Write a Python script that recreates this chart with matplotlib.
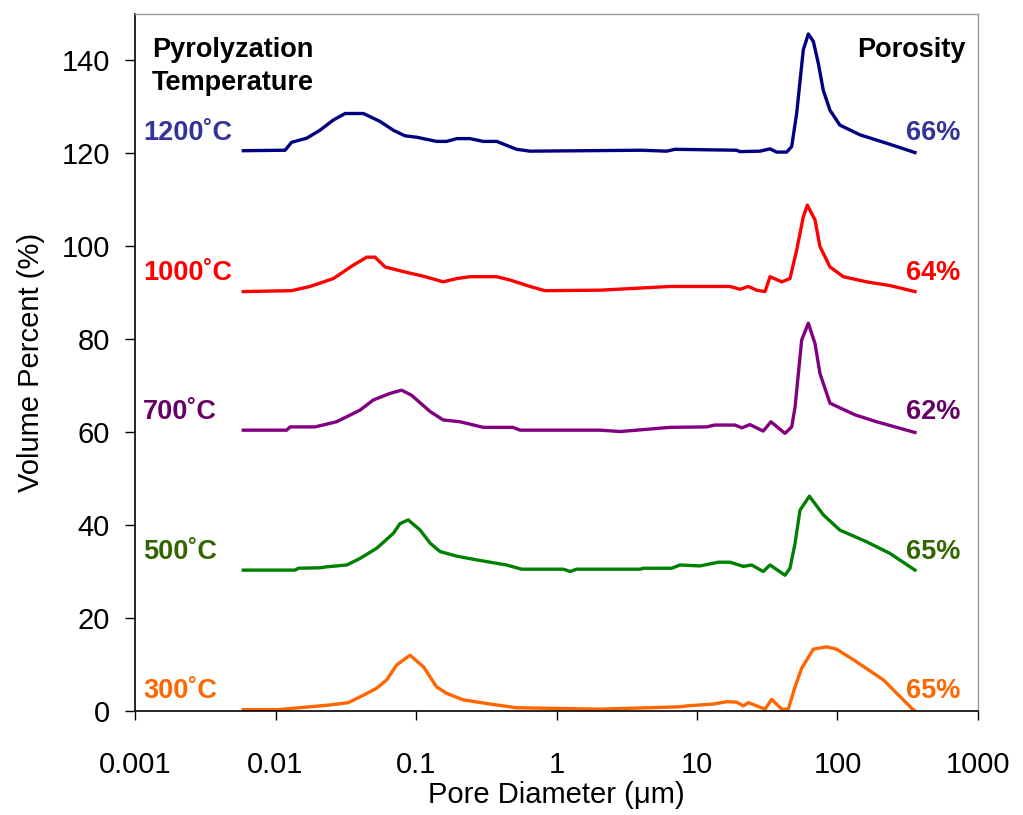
import matplotlib
matplotlib.use('Agg')
import matplotlib.pyplot as plt
import numpy as np

plt.rcParams['font.family'] = ['Liberation Sans', 'DejaVu Sans']

# Pore diameter (um) and volume percent (relative to each curve's baseline)
x_1200 = [0.0059, 0.0117, 0.013, 0.0167, 0.0207, 0.0258, 0.0313, 0.0422, 0.0554, 0.0689,
          0.0835, 0.101, 0.140, 0.165, 0.195, 0.242, 0.301, 0.375, 0.52, 0.648, 4.04, 6.08,
          6.97, 19.2, 20.2, 28.1, 33.1, 36.9, 43.5, 47.2, 51.2, 57.1, 62, 67.3, 73, 79.2,
          88.4, 104, 145, 224, 356]
y_1200 = [0.5, 0.6, 2.3, 3.2, 4.9, 7.1, 8.5, 8.5, 6.8, 4.9, 3.7, 3.4, 2.5, 2.5, 3.1, 3.1,
          2.5, 2.5, 0.8, 0.4, 0.6, 0.4, 0.8, 0.6, 0.3, 0.4, 0.9, 0.2, 0.2, 1.4, 8.5, 22.2,
          25.6, 24.0, 19.3, 13.5, 9.2, 6.0, 3.9, 2.1, 0.1]

x_1000 = [0.0059, 0.013, 0.0176, 0.0258, 0.0358, 0.0446, 0.0511, 0.0602, 0.0812, 0.113,
          0.156, 0.195, 0.242, 0.375, 0.466, 0.648, 0.827, 2.04, 6.42, 17.2, 20.2, 23.2,
          26.6, 30.5, 33.1, 40.1, 45.9, 51.2, 57.1, 61, 69.2, 75, 88.4, 110, 161, 236, 356]
y_1000 = [0.2, 0.4, 1.3, 3.0, 5.9, 7.6, 7.6, 5.5, 4.5, 3.5, 2.3, 3.0, 3.4, 3.4, 2.7, 1.3,
          0.4, 0.5, 1.3, 1.3, 0.7, 1.3, 0.5, 0.2, 3.4, 2.3, 3.0, 9.1, 16.3, 18.8, 15.6, 9.9,
          5.5, 3.4, 2.3, 1.5, 0.2]

x_700 = [0.0059, 0.012, 0.0127, 0.0191, 0.0272, 0.0399, 0.0497, 0.0653, 0.079, 0.093,
         0.126, 0.156, 0.206, 0.301, 0.49, 0.55, 2.04, 2.83, 3.72, 6.42, 11.7, 13.4, 18.6,
         20.9, 23.8, 29.6, 33.6, 42.3, 47.2, 49.9, 55.6, 62, 69.2, 75, 88.4, 133, 190, 356]
y_700 = [0.4, 0.4, 1.1, 1.1, 2.2, 4.7, 6.9, 8.3, 9.0, 7.9, 4.4, 2.6, 2.2, 1.0, 1.0, 0.4,
         0.4, 0.1, 0.4, 1.0, 1.1, 1.5, 1.5, 0.9, 1.6, 0.2, 2.2, -0.3, 1.1, 5.4, 19.8, 23.4,
         19.0, 12.6, 6.2, 3.7, 2.2, -0.1]

x_500 = [0.0059, 0.0138, 0.0145, 0.0207, 0.023, 0.0321, 0.0399, 0.0525, 0.0689, 0.0769,
         0.088, 0.107, 0.126, 0.148, 0.195, 0.27, 0.441, 0.565, 1.12, 1.25, 1.39, 3.93,
         4.15, 6.6, 7.57, 10.5, 14.2, 17.2, 21.4, 24.5, 29.6, 33.1, 42.3, 45.9, 49.9, 54.1,
         63.1, 79.2, 104, 161, 236, 356]
y_500 = [0.3, 0.3, 0.7, 0.8, 1.0, 1.4, 2.8, 5.0, 8.2, 10.3, 11.1, 8.9, 6.1, 4.3, 3.3, 2.5,
         1.4, 0.5, 0.5, 0.0, 0.5, 0.5, 0.7, 0.7, 1.4, 1.2, 2.0, 2.0, 1.1, 1.4, 0.0, 1.4,
         -0.8, 0.7, 6.1, 13.2, 16.2, 12.2, 8.9, 6.4, 3.9, 0.3]

x_300 = [0.0059, 0.0104, 0.0176, 0.0244, 0.033, 0.0422, 0.0525, 0.0618, 0.0728, 0.0906,
         0.113, 0.14, 0.165, 0.217, 0.336, 0.52, 2.04, 7.57, 8.47, 13.1, 16.3, 19.2, 21.4,
         23.2, 30.5, 34, 40.1, 44.6, 49.9, 55.6, 67.3, 83.8, 98.6, 130, 212, 337, 356]
y_300 = [0.3, 0.3, 0.9, 1.3, 1.8, 3.4, 4.9, 6.7, 9.9, 12.0, 9.5, 5.2, 3.8, 2.4, 1.5, 0.7,
         0.4, 0.9, 1.1, 1.5, 2.0, 1.9, 1.1, 1.8, 0.4, 2.5, 0.4, 0.4, 5.2, 9.2, 13.3, 13.8,
         13.3, 11.0, 6.7, 0.6, 0.0]

temps = ['1200˚C', '1000˚C', '700˚C', '500˚C', '300˚C']
porosity = ['66%', '64%', '62%', '65%', '65%']
offsets = [120, 90, 60, 30, 0]
xs = [x_1200, x_1000, x_700, x_500, x_300]
ys = [y_1200, y_1000, y_700, y_500, y_300]
line_colors = ['#000080', '#FF0000', '#800080', '#008000', '#FF6600']
label_colors = ['#333399', '#FF0000', '#660066', '#336600', '#FF6600']

fig = plt.figure(figsize=(10.23, 8.15), dpi=100)
ax = fig.add_axes([0.132, 0.1276, 0.824, 0.8558])

for x, y, off, lc, tc, t, p in zip(xs, ys, offsets, line_colors, label_colors, temps, porosity):
    ax.plot(x, np.array(y) + off, color=lc, linewidth=2.4, solid_joinstyle='round')
    ax.text(0.0095, off + 4.2, t, transform=ax.get_yaxis_transform(), color=tc,
            fontsize=19.5, fontweight='bold', ha='left', va='center')
    ax.text(0.979, off + 4.2, p, transform=ax.get_yaxis_transform(), color=tc,
            fontsize=19.5, fontweight='bold', ha='right', va='center')

# header texts
ax.text(0.020, 140.6, 'Pyrolyzation', transform=ax.get_yaxis_transform(),
        fontsize=19.5, fontweight='bold', ha='left', va='baseline')
ax.text(0.020, 133.5, 'Temperature', transform=ax.get_yaxis_transform(),
        fontsize=19.5, fontweight='bold', ha='left', va='baseline')
ax.text(0.985, 140.6, 'Porosity', transform=ax.get_yaxis_transform(),
        fontsize=19.5, fontweight='bold', ha='right', va='baseline')

ax.set_xscale('log')
ax.set_xlim(0.001, 1000)
ax.set_ylim(0, 150)
ax.set_xticks([0.001, 0.01, 0.1, 1, 10, 100, 1000])
ax.set_xticklabels(['0.001', '0.01', '0.1', '1', '10', '100', '1000'])
ax.minorticks_off()
ax.set_yticks(range(0, 141, 20))

ax.tick_params(axis='y', direction='out', length=7, width=1, labelsize=21, pad=11)
ax.tick_params(axis='x', direction='out', length=6.5, width=1, labelsize=21, pad=22)
ax.tick_params(top=False, right=False)

for s in ['left', 'bottom']:
    ax.spines[s].set_color('black')
    ax.spines[s].set_linewidth(1.2)
for s in ['top', 'right']:
    ax.spines[s].set_color('#999999')
    ax.spines[s].set_linewidth(1.0)

ax.set_xlabel('Pore Diameter (μm)', fontsize=21, labelpad=2)
ax.set_ylabel('Volume Percent (%)', fontsize=21, labelpad=12)

fig.savefig('out.png', dpi=100)
